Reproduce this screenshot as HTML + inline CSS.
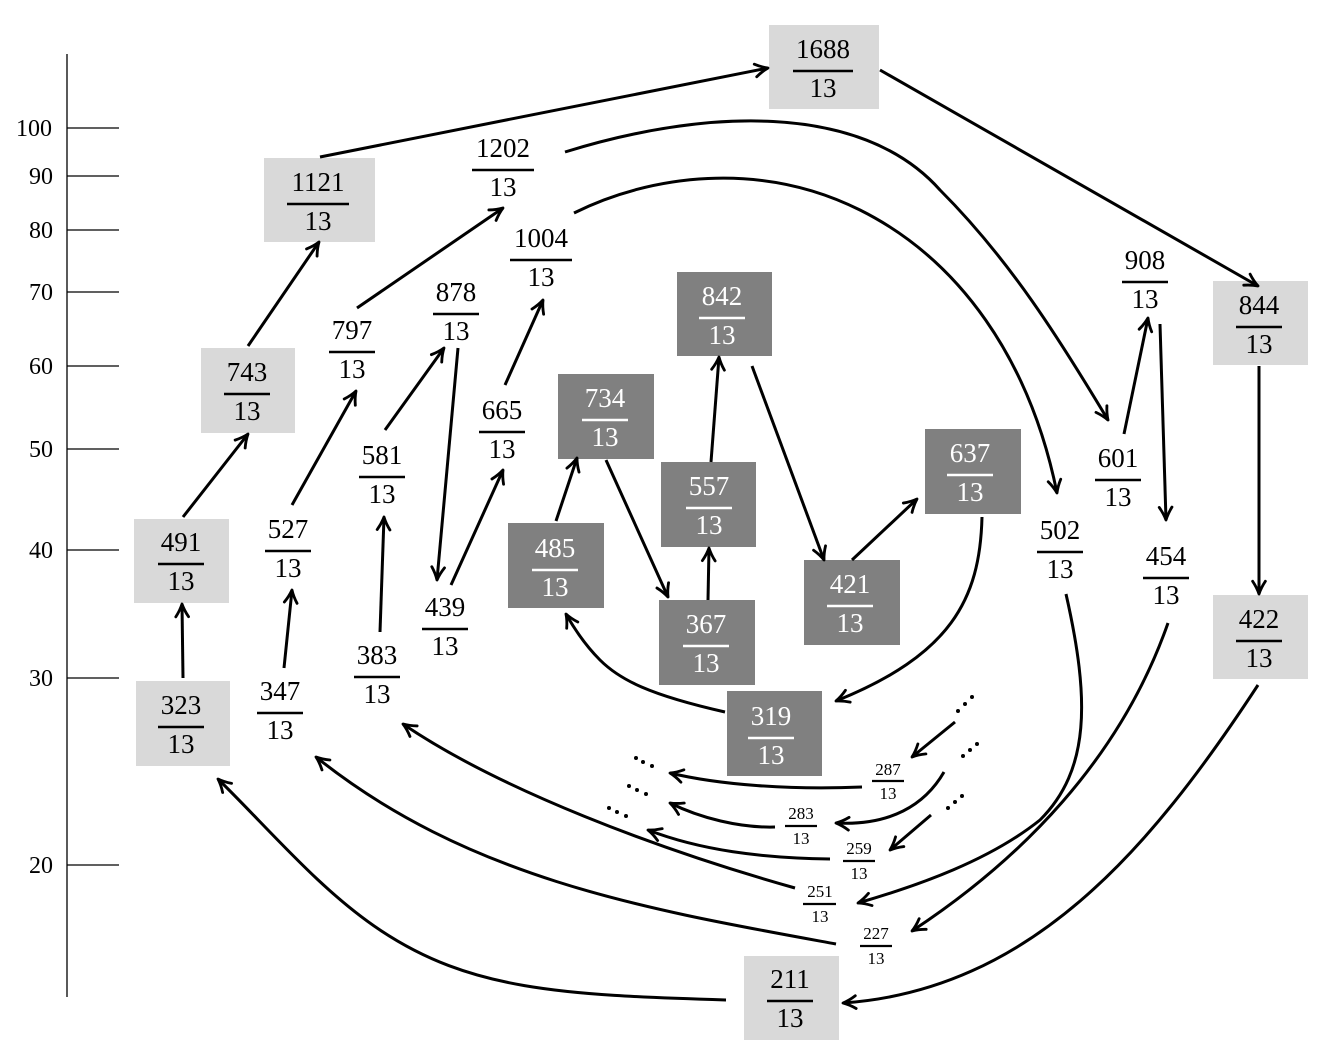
<!DOCTYPE html>
<html><head><meta charset="utf-8"><style>
html,body{margin:0;padding:0;background:#fff}
svg{display:block}
text{font-family:"Liberation Serif",serif;text-anchor:middle}
.b text{font-size:27px}
.s text{font-size:17px}
.w text{fill:#fff}
</style></head><body>
<svg width="1337" height="1054" viewBox="0 0 1337 1054" xmlns="http://www.w3.org/2000/svg">
<defs>
<marker id="a" viewBox="0 0 12 12" refX="10.5" refY="6" markerWidth="17" markerHeight="17" markerUnits="userSpaceOnUse" orient="auto">
<path d="M1.5,1.5 Q6,4.5 10.5,6 Q6,7.5 1.5,10.5" fill="none" stroke="#000" stroke-width="2" stroke-linecap="round" stroke-linejoin="round"/>
</marker>
</defs>
<g stroke="#000" stroke-width="1.3">
<line x1="67" y1="54" x2="67" y2="997"/>
<line x1="67" y1="128" x2="119" y2="128"/><line x1="67" y1="176" x2="119" y2="176"/>
<line x1="67" y1="230" x2="119" y2="230"/><line x1="67" y1="292" x2="119" y2="292"/>
<line x1="67" y1="366" x2="119" y2="366"/><line x1="67" y1="449" x2="119" y2="449"/>
<line x1="67" y1="550" x2="119" y2="550"/><line x1="67" y1="678" x2="119" y2="678"/>
<line x1="67" y1="865" x2="119" y2="865"/>
</g>
<g style="font-size:24px">
<text x="34" y="136">100</text><text x="41" y="184">90</text><text x="41" y="238">80</text>
<text x="41" y="300">70</text><text x="41" y="374">60</text><text x="41" y="457">50</text>
<text x="41" y="558">40</text><text x="41" y="686">30</text><text x="41" y="873">20</text>
</g>
<g fill="#d9d9d9">
<rect x="769" y="25" width="110" height="84"/>
<rect x="264" y="158" width="111" height="84"/>
<rect x="1213" y="281" width="95" height="84"/>
<rect x="201" y="348" width="94" height="85"/>
<rect x="134" y="519" width="95" height="84"/>
<rect x="1213" y="595" width="95" height="84"/>
<rect x="136" y="681" width="94" height="85"/>
<rect x="744" y="956" width="95" height="84"/>
</g>
<g fill="#808080">
<rect x="677" y="272" width="95" height="84"/>
<rect x="558" y="374" width="96" height="85"/>
<rect x="925" y="429" width="96" height="85"/>
<rect x="661" y="462" width="95" height="85"/>
<rect x="508" y="523" width="96" height="85"/>
<rect x="804" y="560" width="96" height="85"/>
<rect x="659" y="600" width="96" height="85"/>
<rect x="727" y="691" width="95" height="85"/>
</g>
<g fill="none" stroke="#000" stroke-width="3" marker-end="url(#a)">
<path d="M183,678 L182,604"/>
<path d="M183,517 L248,434"/>
<path d="M248,346 L319,242"/>
<path d="M320,157 L768,68"/>
<path d="M880,70 L1258,286"/>
<path d="M1259,366 L1259,594"/>
<path d="M1258,685 C1150,850 1030,990 843,1003"/>
<path d="M284,668 L292,590"/>
<path d="M292,505 L356,391"/>
<path d="M357,308 L503,208"/>
<path d="M565,152 C700,110 860,100 940,190 C1010,260 1060,340 1108,420"/>
<path d="M1124,434 L1148,318"/>
<path d="M1160,324 L1166,520"/>
<path d="M1168,623 C1120,760 1020,860 912,931"/>
<path d="M574,213 C650,175 760,160 860,210 C960,260 1030,360 1057,493"/>
<path d="M1066,594 C1090,700 1090,770 1040,820 C990,860 920,885 858,903"/>
<path d="M931,815 L890,850"/>
<path d="M944,772 C925,805 890,826 836,823"/>
<path d="M955,722 L912,757"/>
<path d="M862,787 C790,790 720,785 670,773"/>
<path d="M775,827 C740,828 700,818 670,803"/>
<path d="M830,859 C760,858 700,850 648,830"/>
<path d="M795,888 C660,850 500,790 403,724"/>
<path d="M836,944 C650,910 470,880 316,757"/>
<path d="M726,1000 C560,995 470,990 380,930 C320,890 270,830 218,779"/>
<path d="M380,632 L384,517"/>
<path d="M385,430 L444,348"/>
<path d="M458,348 L437,580"/>
<path d="M451,585 L503,470"/>
<path d="M505,385 L543,300"/>
<path d="M556,521 L577,458"/>
<path d="M606,460 L668,597"/>
<path d="M708,600 L709,548"/>
<path d="M711,462 L719,357"/>
<path d="M752,366 L824,560"/>
<path d="M852,560 L917,499"/>
<path d="M982,517 C980,600 950,655 836,701"/>
<path d="M725,712 C650,695 620,680 600,660 C585,645 575,630 566,614"/>
</g>
<g fill="#000">
<circle cx="958" cy="711" r="2"/><circle cx="965" cy="704" r="2"/><circle cx="972" cy="697" r="2"/>
<circle cx="963" cy="756" r="2"/><circle cx="970" cy="750" r="2"/><circle cx="977" cy="744" r="2"/>
<circle cx="948" cy="808" r="2"/><circle cx="955" cy="802" r="2"/><circle cx="962" cy="796" r="2"/>
<circle cx="636" cy="758" r="2"/><circle cx="643" cy="762" r="2"/><circle cx="652" cy="766" r="2"/>
<circle cx="629" cy="786" r="2"/><circle cx="637" cy="790" r="2"/><circle cx="646" cy="794" r="2"/>
<circle cx="609" cy="808" r="2"/><circle cx="617" cy="812" r="2"/><circle cx="626" cy="816" r="2"/>
</g>
<g stroke="#000" stroke-width="2.6">
<line x1="793" y1="71" x2="853" y2="71"/>
<line x1="287" y1="204" x2="349" y2="204"/>
<line x1="472" y1="170" x2="534" y2="170"/>
<line x1="510" y1="260" x2="572" y2="260"/>
<line x1="1122" y1="282" x2="1168" y2="282"/>
<line x1="1236" y1="327" x2="1282" y2="327"/>
<line x1="224" y1="394" x2="270" y2="394"/>
<line x1="329" y1="352" x2="375" y2="352"/>
<line x1="433" y1="314" x2="479" y2="314"/>
<line x1="479" y1="432" x2="525" y2="432"/>
<line x1="359" y1="477" x2="405" y2="477"/>
<line x1="1095" y1="480" x2="1141" y2="480"/>
<line x1="158" y1="564" x2="204" y2="564"/>
<line x1="265" y1="551" x2="311" y2="551"/>
<line x1="1037" y1="552" x2="1083" y2="552"/>
<line x1="1143" y1="578" x2="1189" y2="578"/>
<line x1="422" y1="629" x2="468" y2="629"/>
<line x1="1236" y1="641" x2="1282" y2="641"/>
<line x1="354" y1="677" x2="400" y2="677"/>
<line x1="257" y1="713" x2="303" y2="713"/>
<line x1="158" y1="727" x2="204" y2="727"/>
<line x1="767" y1="1001" x2="813" y2="1001"/>
</g>
<g stroke="#fff" stroke-width="2.6">
<line x1="699" y1="318" x2="745" y2="318"/>
<line x1="582" y1="420" x2="628" y2="420"/>
<line x1="947" y1="475" x2="993" y2="475"/>
<line x1="686" y1="508" x2="732" y2="508"/>
<line x1="532" y1="570" x2="578" y2="570"/>
<line x1="827" y1="606" x2="873" y2="606"/>
<line x1="683" y1="646" x2="729" y2="646"/>
<line x1="748" y1="738" x2="794" y2="738"/>
</g>
<g stroke="#000" stroke-width="2.2">
<line x1="872" y1="781" x2="904" y2="781"/>
<line x1="785" y1="826" x2="817" y2="826"/>
<line x1="843" y1="861" x2="875" y2="861"/>
<line x1="803" y1="904" x2="836" y2="904"/>
<line x1="860" y1="946" x2="892" y2="946"/>
</g>
<g class="b">
<text x="823" y="58">1688</text><text x="823" y="97">13</text>
<text x="318" y="191">1121</text><text x="318" y="230">13</text>
<text x="503" y="157">1202</text><text x="503" y="196">13</text>
<text x="541" y="247">1004</text><text x="541" y="286">13</text>
<text x="1145" y="269">908</text><text x="1145" y="308">13</text>
<text x="1259" y="314">844</text><text x="1259" y="353">13</text>
<text x="247" y="381">743</text><text x="247" y="420">13</text>
<text x="352" y="339">797</text><text x="352" y="378">13</text>
<text x="456" y="301">878</text><text x="456" y="340">13</text>
<text x="502" y="419">665</text><text x="502" y="458">13</text>
<text x="382" y="464">581</text><text x="382" y="503">13</text>
<text x="1118" y="467">601</text><text x="1118" y="506">13</text>
<text x="181" y="551">491</text><text x="181" y="590">13</text>
<text x="288" y="538">527</text><text x="288" y="577">13</text>
<text x="1060" y="539">502</text><text x="1060" y="578">13</text>
<text x="1166" y="565">454</text><text x="1166" y="604">13</text>
<text x="445" y="616">439</text><text x="445" y="655">13</text>
<text x="1259" y="628">422</text><text x="1259" y="667">13</text>
<text x="377" y="664">383</text><text x="377" y="703">13</text>
<text x="280" y="700">347</text><text x="280" y="739">13</text>
<text x="181" y="714">323</text><text x="181" y="753">13</text>
<text x="790" y="988">211</text><text x="790" y="1027">13</text>
</g>
<g class="b w">
<text x="722" y="305">842</text><text x="722" y="344">13</text>
<text x="605" y="407">734</text><text x="605" y="446">13</text>
<text x="970" y="462">637</text><text x="970" y="501">13</text>
<text x="709" y="495">557</text><text x="709" y="534">13</text>
<text x="555" y="557">485</text><text x="555" y="596">13</text>
<text x="850" y="593">421</text><text x="850" y="632">13</text>
<text x="706" y="633">367</text><text x="706" y="672">13</text>
<text x="771" y="725">319</text><text x="771" y="764">13</text>
</g>
<g class="s">
<text x="888" y="775">287</text><text x="888" y="799">13</text>
<text x="801" y="819">283</text><text x="801" y="844">13</text>
<text x="859" y="854">259</text><text x="859" y="879">13</text>
<text x="820" y="897">251</text><text x="820" y="922">13</text>
<text x="876" y="939">227</text><text x="876" y="964">13</text>
</g>
</svg>
</body></html>
